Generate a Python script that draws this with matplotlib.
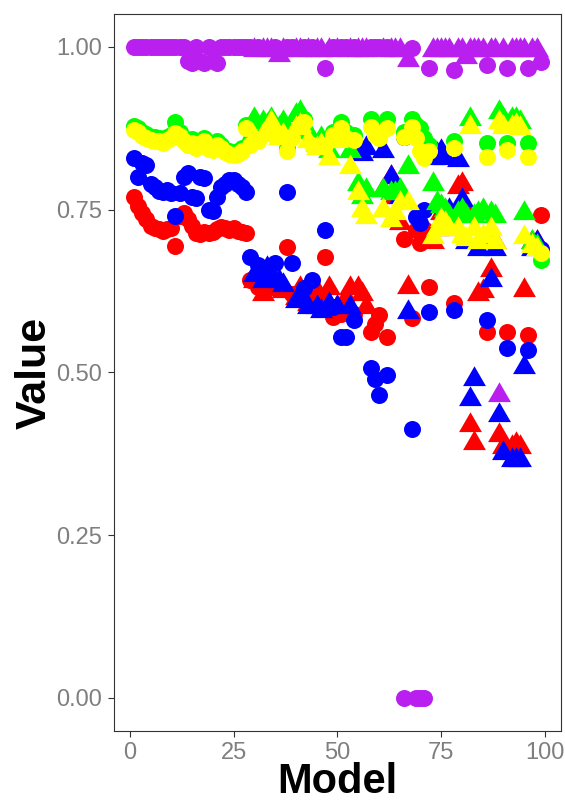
"""
Scatter of five metrics per model (circle / triangle by model type)
"""

import numpy as np
import matplotlib
matplotlib.use("Agg")
import matplotlib.pyplot as plt

plt.rcParams["font.family"] = ["Liberation Sans", "DejaVu Sans"]

models = list(range(1, 100))

# model type -> marker shape ("o" circle, "^" triangle)
shapes = list(
    "ooooooooooooooooooooooooooo"
    "oo^o^^^o^^oo^^o^o^^o^o^"
    "oo^o^^^ooo"
    "^o^^^o^ooo"
    "oo^^^^^o^^"
    "^^^^^o^^^^"
    "o^^^^o^^o"
)

red = [
    .770, .755, .745, .735, .725, .722, .720, .718, .720, .722,
    .694, .740, .745, .735, .725, .714, .712, .716, .714, .716,
    .720, .724, .722, .719, .722, .718, .716, .714, .642, .640,
    .631, .620, .640, .645, .630, .635, .625, .693, .620, .615,
    .630, .625, .605, .620, .625, .610, .677, .630, .585, .600,
    .590, .610, .630, .590, .630, .620, .600, .562, .575, .588,
    .780, .555, .800, .770, .730, .705, .631, .583, .719, .699,
    .720, .632, .700, .720, .745, .740, .720, .607, .785, .790,
    .750, .420, .392, .620, .625, .562, .657, .700, .404, .386,
    .562, .386, .390, .386, .627, .557, .700, .700, .742,
]
blue = [
    .830, .800, .822, .818, .790, .785, .778, .777, .780, .776,
    .740, .776, .800, .806, .770, .768, .800, .799, .750, .748,
    .770, .785, .790, .796, .796, .790, .785, .777, .677, .650,
    .665, .640, .660, .645, .668, .640, .635, .777, .668, .610,
    .620, .630, .600, .642, .600, .595, .719, .605, .600, .600,
    .555, .555, .600, .580, .840, .835, .845, .507, .490, .465,
    .840, .496, .800, .785, .770, .862, .593, .413, .739, .730,
    .750, .593, .830, .835, .840, .830, .750, .596, .826, .765,
    .700, .460, .490, .690, .700, .580, .642, .690, .435, .376,
    .538, .366, .366, .366, .509, .535, .690, .700, .690,
]
green = [
    .878, .876, .870, .866, .862, .862, .860, .858, .862, .865,
    .884, .870, .860, .855, .858, .850, .855, .860, .848, .846,
    .855, .850, .842, .840, .838, .840, .845, .880, .855, .890,
    .860, .885, .880, .890, .870, .875, .885, .845, .865, .895,
    .900, .890, .870, .855, .850, .860, .855, .840, .870, .860,
    .885, .870, .840, .865, .790, .770, .780, .890, .880, .870,
    .780, .890, .775, .776, .780, .870, .816, .890, .880, .875,
    .860, .850, .790, .760, .755, .750, .740, .855, .745, .750,
    .740, .890, .740, .745, .750, .852, .745, .740, .900, .890,
    .852, .890, .890, .885, .745, .852, .700, .695, .672,
]
yellow = [
    .872, .870, .864, .860, .857, .856, .855, .853, .857, .860,
    .868, .864, .855, .850, .852, .845, .849, .855, .843, .841,
    .849, .845, .838, .836, .834, .836, .840, .875, .850, .860,
    .855, .865, .870, .885, .865, .860, .865, .840, .860, .875,
    .880, .885, .855, .850, .845, .850, .850, .830, .865, .855,
    .875, .860, .815, .857, .776, .750, .739, .877, .865, .860,
    .750, .875, .734, .745, .760, .862, .760, .877, .860, .840,
    .830, .840, .708, .720, .734, .730, .720, .845, .720, .710,
    .705, .877, .720, .700, .710, .831, .720, .700, .885, .877,
    .842, .877, .880, .875, .708, .831, .695, .690, .683,
]
purple = [
    1.0, 1.0, 1.0, 1.0, 1.0, 1.0, 1.0, 1.0, 1.0, 1.0,
    1.0, 1.0, 1.0, .978, .975, 1.0, .978, .976, 1.0, .978,
    .975, 1.0, 1.0, 1.0, 1.0, 1.0, 1.0, 1.0, 1.0, .995,
    1.0, .995, .995, .995, 1.0, .988, .995, 1.0, 1.0, .995,
    .995, 1.0, .995, 1.0, .995, .995, .967, .995, 1.0, .995,
    1.0, 1.0, .995, 1.0, .995, .995, .995, 1.0, 1.0, 1.0,
    .995, 1.0, .995, .995, .995, 0.0, .980, .998, 0.0, 0.0,
    0.0, .968, .995, .995, .995, .995, .995, .965, .995, .995,
    .985, .995, .995, .995, .995, .972, .995, .995, .465, .995,
    .968, .995, .995, .995, .995, .968, .995, .995, .977,
]

series = [
    (red, "#FF0000"),
    (blue, "#0000FF"),
    (green, "#00FF00"),
    (yellow, "#FFFF00"),
    (purple, "#B91FEE"),
]

# R style filled triangle, centred on its centroid
TRIANGLE = [(0, 1.555), (1.347, -0.778), (-1.347, -0.778), (0, 1.555)]
CIRCLE_SIZE = 150
TRIANGLE_SIZE = 361

fig = plt.figure(figsize=(5.65, 8.01), dpi=100)
ax = fig.add_axes([0.201, 0.088, 0.792, 0.894])

x = np.array(models)
is_tri = np.array([s == "^" for s in shapes])

for values, color in series:
    y = np.array(values)
    ax.scatter(x[~is_tri], y[~is_tri], s=CIRCLE_SIZE, marker="o",
               color=color, linewidths=0)
    ax.scatter(x[is_tri], y[is_tri], s=TRIANGLE_SIZE, marker=TRIANGLE,
               color=color, linewidths=0)

ax.set_xlim(-3.9, 103.9)
ax.set_ylim(-0.05, 1.05)
ax.set_xticks([0, 25, 50, 75, 100])
ax.set_yticks([0, 0.25, 0.5, 0.75, 1.0])
ax.set_yticklabels(["0.00", "0.25", "0.50", "0.75", "1.00"])

for spine in ax.spines.values():
    spine.set_color("#333333")
    spine.set_linewidth(0.8)

ax.tick_params(axis="both", colors="#333333", labelcolor="#7F7F7F",
               labelsize=17, length=4.5, width=0.8)

ax.set_xlabel("Model", fontsize=30, fontweight="bold", labelpad=-1)
ax.set_ylabel("Value", fontsize=31, fontweight="bold", labelpad=1)

plt.savefig("out.png", dpi=100)
